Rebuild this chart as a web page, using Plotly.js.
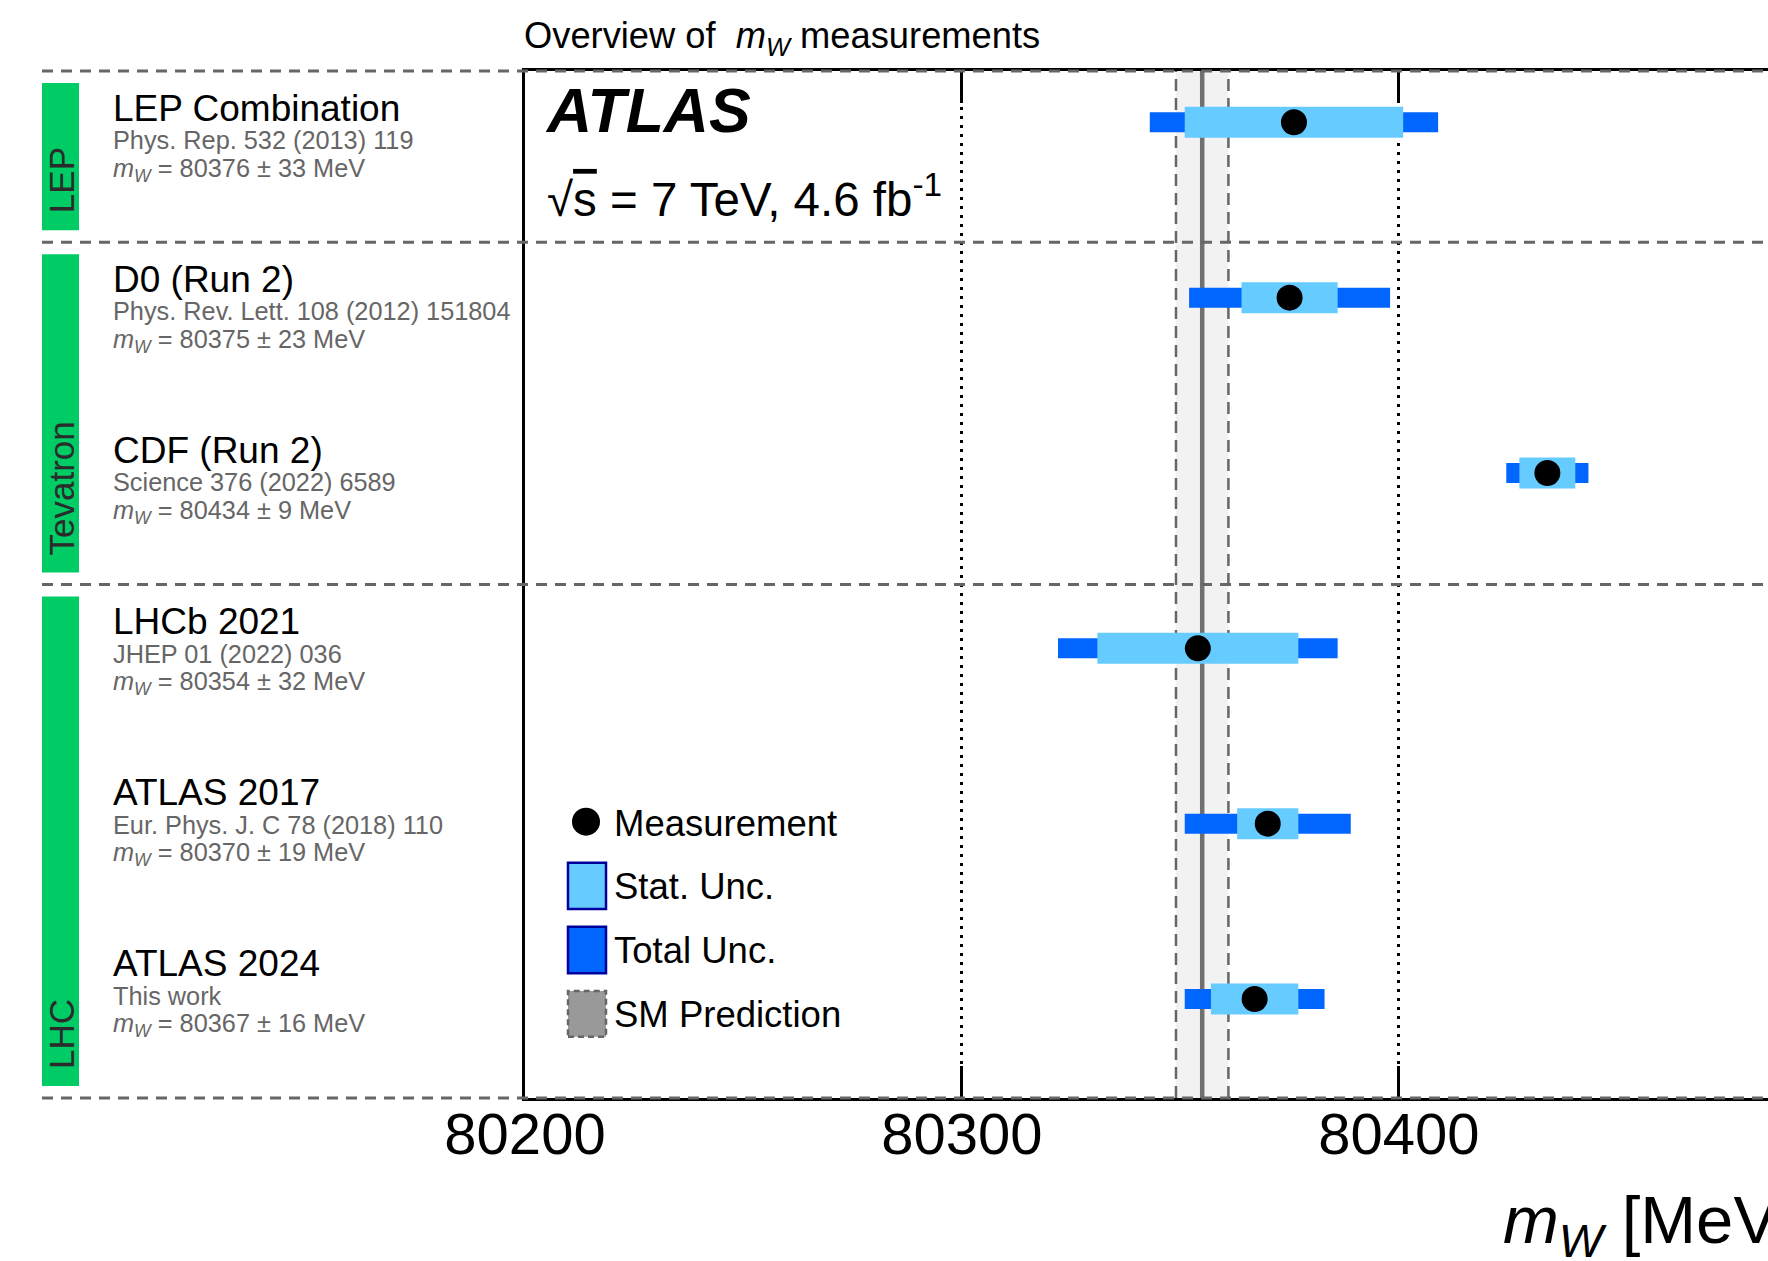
<!DOCTYPE html>
<html>
<head>
<meta charset="utf-8">
<script src="https://cdn.plot.ly/plotly-3.0.1.min.js"></script>
<style>
html,body{margin:0;padding:0;background:#fff;overflow:hidden}
#chart{width:1768px;height:1261px}
</style>
</head>
<body>
<div id="chart"></div>
<script>
// ---------------- data ----------------
const experiments = ["LEP Combination", "D0 (Run 2)", "CDF (Run 2)", "LHCb 2021", "ATLAS 2017", "ATLAS 2024"];
const references = ["Phys. Rep. 532 (2013) 119", "Phys. Rev. Lett. 108 (2012) 151804", "Science 376 (2022) 6589",
                    "JHEP 01 (2022) 036", "Eur. Phys. J. C 78 (2018) 110", "This work"];
const groups = ["LEP", "Tevatron", "LHC"];
const groupSizes = [1, 2, 3];
const mwCentral = [80376, 80375, 80434, 80354, 80370, 80367];
const statUnc   = [25, 11, 6.4, 23, 7, 10];
const totalUnc  = [33, 23, 9.4, 32, 19, 16];
const smPrediction = 80355;
const smUncertainty = 6;
const xTicks = [80200, 80300, 80400];
const xRange = [80200, 80484.5];
const legendLabels = ["Measurement", "Stat. Unc.", "Total Unc.", "SM Prediction"];

// ---------------- layout helpers ----------------
const W = 1768, H = 1261;
const M = {l: 525, r: 0, t: 71, b: 163};
const PW = W - M.l - M.r, PH = H - M.t - M.b;
const px2x = px => (px - M.l) / PW;
const px2y = py => (H - M.b - py) / PH;
const FONT = '"Liberation Sans", Arial, Helvetica, sans-serif';
const GREY_TXT = '#666666';
const nRows = experiments.length;
const rowH = PH / nRows;

function label(text, xpx, basePx, size, color, asc, extra) {
  asc = asc || 0.905;
  return Object.assign({
    xref: 'paper', yref: 'paper',
    x: px2x(xpx), y: px2y(basePx - asc * size),
    xanchor: 'left', yanchor: 'top', align: 'left',
    text: text, showarrow: false, borderpad: 0, borderwidth: 0,
    font: {family: FONT, size: size, color: color}
  }, extra || {});
}

const annotations = [];
const shapes = [];

// title
annotations.push(label('Overview of\u00a0 <i>m</i><sub><i>W</i></sub> measurements', 524, 48, 36.3, '#000'));
// ATLAS label
annotations.push(label('<b><i>ATLAS</i></b>', 545, 131.7, 62.5, '#000'));
annotations.push(label('\u221a<span style="text-decoration:overline">s</span> = 7 TeV, 4.6 fb<sup>-1</sup>', 547, 216, 47.5, '#000', 1.0535));
// x axis title
annotations.push(label('<i>m</i><sub><i>W</i></sub> [MeV]', 1503, 1243, 67, '#000'));

// row texts
experiments.forEach((name, k) => {
  const top = M.t + k * rowH;
  annotations.push(label(name, 113, top + 50, 37, '#000'));
  annotations.push(label(references[k], 113, top + 78, 25.3, GREY_TXT));
  annotations.push(label('<i>m</i><sub><i>W</i></sub> = ' + Math.round(mwCentral[k]) + ' \u00b1 ' + Math.round(totalUnc[k]) + ' MeV',
                         113, top + 105.5, 25.3, GREY_TXT));
});

// group bars, labels and separators
let r0 = 0;
const sepRows = [0];
groups.forEach((g, i) => {
  const r1 = r0 + groupSizes[i];
  const yTop = M.t + r0 * rowH, yBot = M.t + r1 * rowH;
  shapes.push({type: 'rect', xref: 'paper', yref: 'paper', layer: 'above',
    x0: px2x(42), x1: px2x(79), y0: px2y(yBot - 12), y1: px2y(yTop + 12),
    fillcolor: '#00cc66', line: {width: 0}});
  annotations.push({xref: 'paper', yref: 'paper', x: px2x(61), y: px2y(yBot - 29),
    xanchor: 'center', yanchor: 'bottom', textangle: -90, text: g, showarrow: false,
    borderpad: 0, borderwidth: 0, font: {family: FONT, size: 35, color: '#2b2b2b'}});
  sepRows.push(r1);
  r0 = r1;
});
sepRows.forEach(r => {
  const ypx = M.t + r * rowH;
  shapes.push({type: 'line', xref: 'paper', yref: 'paper', layer: 'above',
    x0: px2x(42), x1: 1.05, y0: px2y(ypx), y1: px2y(ypx),
    line: {color: '#666666', width: 3, dash: '11px,8px'}});
});

// SM prediction band
shapes.push({type: 'rect', xref: 'x', yref: 'paper', layer: 'below',
  x0: smPrediction - smUncertainty, x1: smPrediction + smUncertainty, y0: 0, y1: 1,
  fillcolor: '#f2f2f2', line: {width: 0}});
[smPrediction - smUncertainty, smPrediction + smUncertainty].forEach(xv => {
  shapes.push({type: 'line', xref: 'x', yref: 'paper', layer: 'below',
    x0: xv, x1: xv, y0: 0, y1: 1, line: {color: '#666666', width: 2.5, dash: '12px,7px'}});
});
shapes.push({type: 'line', xref: 'x', yref: 'paper', layer: 'below',
  x0: smPrediction, x1: smPrediction, y0: 0, y1: 1, line: {color: '#707070', width: 4.5}});

// legend (drawn by hand)
shapes.push({type: 'circle', xref: 'paper', yref: 'paper', layer: 'above',
  x0: px2x(572), x1: px2x(600), y0: px2y(835.7), y1: px2y(807.7),
  fillcolor: '#000', line: {width: 0}});
const boxY = [[862.7, 909], [926.7, 973.3], [991, 1036.7]];
const boxFill = ['#66ccff', '#0066ff', '#999999'];
const boxLine = [{color: '#00009c', width: 2.5}, {color: '#00009c', width: 2.5}, {color: '#666666', width: 2.5, dash: '6px,4px'}];
boxY.forEach((b, i) => {
  shapes.push({type: 'rect', xref: 'paper', yref: 'paper', layer: 'above',
    x0: px2x(568), x1: px2x(606), y0: px2y(b[1]), y1: px2y(b[0]),
    fillcolor: boxFill[i], line: boxLine[i]});
});
const legendBase = [836, 899.3, 963.3, 1026.7];
legendLabels.forEach((t, i) => annotations.push(label(t, 614, legendBase[i], 36.5, '#000')));

// ---------------- traces ----------------
const traces = [
  {type: 'bar', orientation: 'h', y: experiments,
   base: mwCentral.map((c, i) => c - totalUnc[i]), x: totalUnc.map(t => 2 * t),
   width: 0.114, marker: {color: '#0066ff', line: {width: 0}}, hoverinfo: 'skip'},
  {type: 'bar', orientation: 'h', y: experiments,
   base: mwCentral.map((c, i) => c - statUnc[i]), x: statUnc.map(t => 2 * t),
   width: 0.177, marker: {color: '#66ccff', line: {width: 0}}, hoverinfo: 'skip'},
  {type: 'scatter', mode: 'markers', y: experiments, x: mwCentral,
   marker: {size: 26, color: '#000', line: {width: 0}}, hoverinfo: 'skip'}
];

const layout = {
  width: W, height: H,
  margin: M,
  paper_bgcolor: '#fff', plot_bgcolor: '#fff',
  font: {family: FONT, color: '#000'},
  showlegend: false,
  barmode: 'overlay',
  xaxis: {
    range: xRange, autorange: false, tickvals: xTicks, ticktext: xTicks.map(String),
    ticks: 'inside', ticklen: 32, tickwidth: 3, tickcolor: '#000',
    showline: true, linecolor: '#000', linewidth: 3, mirror: 'ticks',
    showgrid: true, gridcolor: '#000', gridwidth: 3, griddash: '3px,6px',
    zeroline: false, tickfont: {family: FONT, size: 58, color: '#000'},
    ticklabelstandoff: -17
  },
  yaxis: {
    type: 'category', categoryorder: 'array', categoryarray: experiments,
    range: [5.5646, -0.2926], autorange: false,
    showticklabels: false, ticks: '', showgrid: false, zeroline: false,
    showline: true, linecolor: '#000', linewidth: 3
  },
  shapes: shapes,
  annotations: annotations
};

Plotly.newPlot('chart', traces, layout, {displayModeBar: false, staticPlot: true});
</script>
</body>
</html>
